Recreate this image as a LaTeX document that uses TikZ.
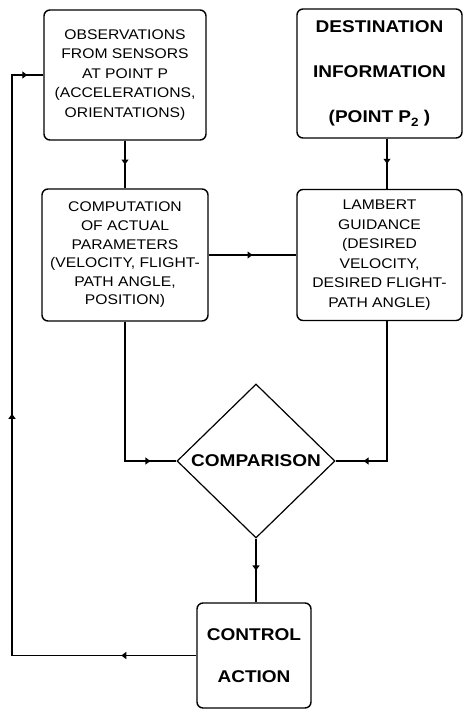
\documentclass[tikz,border=0pt]{standalone}
\usepackage{fontspec}
\setmainfont{Liberation Sans}[FakeStretch=1.12]
\usetikzlibrary{shapes.geometric,decorations.markings,arrows.meta}
\tikzset{
  box/.style={draw, line width=1.4pt, rounded corners=6pt, align=center, inner sep=0pt},
  plain/.style={font=\fontsize{14}{19.5}\selectfont},
  heavy/.style={font=\fontsize{17}{45}\selectfont\bfseries},
  link/.style={line width=1.2pt},
  midarr/.style={postaction={decorate, decoration={markings,
      mark=at position #1 with {\arrow{Triangle[length=5pt,width=7pt]}}}}}
}
\begin{document}
\begin{tikzpicture}[x=1pt,y=-1pt]
\useasboundingbox (0,0) rectangle (464,709);

\node[box,plain,minimum width=162pt,minimum height=130pt] (obs) at (125,75)
  {OBSERVATIONS\\FROM SENSORS\\AT POINT P\\(ACCELERATIONS,\\ORIENTATIONS)};
\node[box,heavy,minimum width=165pt,minimum height=129pt] (dest) at (379.5,73.5)
  {DESTINATION\\INFORMATION\\(POINT P\raisebox{-4pt}{\fontsize{12}{12}\selectfont 2} )};
\node[box,font=\fontsize{14}{18.6}\selectfont,minimum width=166pt,minimum height=132pt] (comp) at (125,255)
  {COMPUTATION\\OF ACTUAL\\PARAMETERS\\(VELOCITY, FLIGHT-\\PATH ANGLE,\\POSITION)};
\node[box,plain,minimum width=165pt,minimum height=131pt] (lam) at (379.5,255)
  {LAMBERT\\GUIDANCE\\(DESIRED\\VELOCITY,\\DESIRED FLIGHT-\\PATH ANGLE)};
\node[diamond,draw,line width=1.2pt,inner sep=0pt,minimum width=158pt,minimum height=154pt,
  label={[heavy]center:COMPARISON}] (cmp) at (256,461) {};
\node[box,font=\fontsize{17}{42}\selectfont\bfseries,minimum width=114pt,minimum height=105pt] (ctl) at (254,655.5)
  {CONTROL\\ACTION};
\coordinate (back) at (12,0);

\draw[link,midarr=0.5] (obs.south) -- (obs.south |- comp.north);
\draw[link,midarr=0.5] ([xshift=7.5pt]dest.south) -- ([xshift=7.5pt]lam.north);
\draw[link,midarr=0.5] (comp.east) -- (lam.west);
\draw[link,midarr=-26pt] (comp.south) |- (cmp.west);
\draw[link,midarr=-28pt] ([xshift=7.5pt]lam.south) |- (cmp.east);
\draw[link,midarr=0.5] (cmp.south) -- (cmp.south |- ctl.north);
\draw[link,midarr=75pt,midarr=426pt,midarr=-16pt] (ctl.west) -- (ctl.west -| back) |- (obs.west);
\end{tikzpicture}
\end{document}
